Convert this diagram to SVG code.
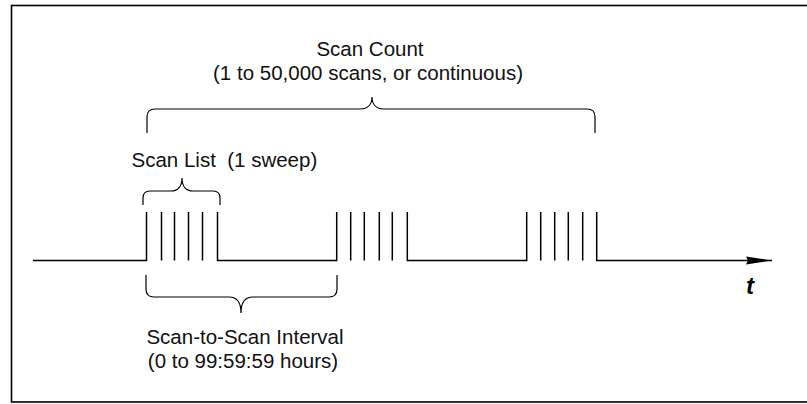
<svg xmlns="http://www.w3.org/2000/svg" width="807" height="404" viewBox="0 0 807 404">
<style>
.ln{fill:none;stroke:#000;stroke-width:1.5}
.br{fill:none;stroke:#000;stroke-width:1.2}
.tx{font-family:"Liberation Sans",Arial,sans-serif;font-size:20.5px;fill:#111;white-space:pre}
</style>
<defs>
<marker id="ah" markerWidth="28" markerHeight="10" refX="26" refY="5" orient="auto" markerUnits="userSpaceOnUse">
<path d="M0,1 L26,5 L0,9 L2,5 Z" fill="#000"/>
</marker>
</defs>
<rect x="11.5" y="5.5" width="820" height="396.5" fill="none" stroke="#000" stroke-width="1.6"/>
<g id="signal">
<path class="ln" d="M33,260.5 H146.5 V212 M161.5,212 V260.5 M174.5,212 V260.5 M188.5,212 V260.5 M202.5,212 V260.5 M217.5,212 V260.5 H336.7 V212 M350.7,212 V260.5 M364.3,212 V260.5 M379.3,212 V260.5 M392.3,212 V260.5 M407.3,212 V260.5 H526.7 V212 M540.7,212 V260.5 M554.7,212 V260.5 M568.3,212 V260.5 M582.7,212 V260.5 M596.7,212 V260.5 H772" marker-end="url(#ah)"/>
</g>
<g id="connectors">
<path class="br" d="M147,133 V117 Q147,109 155,109 H360 C368,109 372,104 372,97 C372,104 376,109 384,109 H587 Q595,109 595,117 V133"/>
<path class="br" d="M143,205 V198 Q143,191 150,191 H171 C178,191 182,186 182,178 C182,186 186,191 193,191 H213 Q220,191 220,198 V205"/>
<path class="br" d="M146,275 V289 Q146,297 154,297 H229 C237,297 241,302 241,313 C241,302 245,297 253,297 H329 Q337,297 337,289 V275"/>
</g>
<g id="scan-count">
<text class="tx" x="370" y="56" text-anchor="middle">Scan Count</text>
<text class="tx" x="368" y="80" text-anchor="middle">(1 to 50,000 scans, or continuous)</text>
</g>
<g id="scan-list">
<text class="tx" x="131.5" y="167">Scan List  (1 sweep)</text>
</g>
<g id="interval">
<text class="tx" x="245" y="343.5" text-anchor="middle">Scan-to-Scan Interval</text>
<text class="tx" x="243" y="368" text-anchor="middle">(0 to 99:59:59 hours)</text>
</g>
<g id="t-label">
<text x="746" y="293.5" font-family="Liberation Sans,Arial,sans-serif" font-size="24" font-weight="bold" font-style="italic" fill="#000">t</text>
</g>
</svg>
